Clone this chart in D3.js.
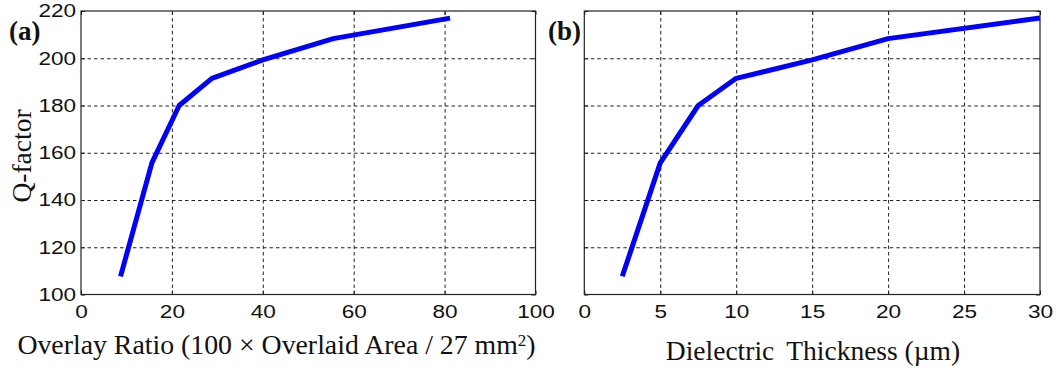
<!DOCTYPE html>
<html>
<head>
<meta charset="utf-8">
<script src="https://cdn.jsdelivr.net/npm/d3@7"></script>
<style>
  html, body { margin: 0; padding: 0; background: #fff; }
  svg { display: block; }
</style>
</head>
<body>
<svg id="chart" width="1059" height="370"></svg>
<script>
// Q-factor versus overlay ratio (a) and dielectric thickness (b)
const overlayRatio = [8.7, 15.6, 21.6, 28.8, 40, 55.5, 81.2];
const dielectricThickness = [2.5, 5, 7.5, 10, 15, 20, 30];
const qFactor = [107.7, 155.7, 180, 191.5, 199.3, 208.3, 217];

const xTicksA = [0, 20, 40, 60, 80, 100];
const xTicksB = [0, 5, 10, 15, 20, 25, 30];
const yTicks = [100, 120, 140, 160, 180, 200, 220];

const svg = d3.select("#chart");
const plotTop = 11, plotBottom = 294.5;

const y = d3.scaleLinear().domain([100, 220]).range([plotBottom, plotTop]);

const panels = [
  { left: 81, right: 535.5, domain: [0, 100], ticks: xTicksA, xs: overlayRatio,
    yLabels: true, tag: "(a)", tagX: 9 },
  { left: 584.3, right: 1040, domain: [0, 30], ticks: xTicksB, xs: dielectricThickness,
    yLabels: false, tag: "(b)", tagX: 548 }
];

const tickFont = "'Liberation Sans', Arial, sans-serif";
const serif = "'Liberation Serif', 'Times New Roman', serif";

panels.forEach(p => {
  const x = d3.scaleLinear().domain(p.domain).range([p.left, p.right]);
  const w = p.right - p.left, h = plotBottom - plotTop;
  const g = svg.append("g");

  // dashed grid
  const gx = g.append("g").attr("transform", `translate(0,${plotBottom})`)
    .call(d3.axisBottom(x).tickValues(p.ticks.slice(1, -1)).tickSize(-h).tickFormat(""));
  const gy = g.append("g").attr("transform", `translate(${p.left},0)`)
    .call(d3.axisLeft(y).tickValues(yTicks.slice(1, -1)).tickSize(-w).tickFormat(""));
  [gx, gy].forEach(a => {
    a.select(".domain").remove();
    a.selectAll("line").attr("stroke", "#222").attr("stroke-width", 1)
      .attr("stroke-dasharray", "3.5,3");
  });

  // inward ticks on all four sides
  const tickLen = 4;
  [[d3.axisBottom(x).tickValues(p.ticks), `translate(0,${plotBottom})`],
   [d3.axisTop(x).tickValues(p.ticks), `translate(0,${plotTop})`],
   [d3.axisLeft(y).tickValues(yTicks), `translate(${p.left},0)`],
   [d3.axisRight(y).tickValues(yTicks), `translate(${p.right},0)`]]
    .forEach(([ax, tr]) => {
      const a = g.append("g").attr("transform", tr).call(ax.tickSize(-tickLen).tickFormat(""));
      a.select(".domain").remove();
      a.selectAll("line").attr("stroke", "#222");
    });

  // frame
  g.append("rect").attr("x", p.left).attr("y", plotTop).attr("width", w).attr("height", h)
    .attr("fill", "none").attr("stroke", "#222").attr("stroke-width", 1.2);

  // x tick labels
  const xl = g.append("g").attr("transform", `translate(0,${plotBottom})`)
    .call(d3.axisBottom(x).tickValues(p.ticks).tickSize(0).tickPadding(10.4));
  xl.select(".domain").remove();
  xl.selectAll("text").attr("font-family", tickFont).attr("font-size", 18.5)
    .attr("fill", "#111").attr("transform", "scale(1.22,1)");

  // y tick labels
  if (p.yLabels) {
    const yl = g.append("g").attr("transform", `translate(${p.left},0)`)
      .call(d3.axisLeft(y).tickValues(yTicks).tickSize(0).tickPadding(4));
    yl.select(".domain").remove();
    yl.selectAll("text").attr("font-family", tickFont).attr("font-size", 18.5)
      .attr("fill", "#111").attr("transform", "scale(1.22,1)");
  }

  // Q-factor curve
  const line = d3.line().x(d => x(d[0])).y(d => y(d[1]));
  g.append("path").datum(p.xs.map((v, i) => [v, qFactor[i]]))
    .attr("d", line).attr("fill", "none").attr("stroke", "#0000ff")
    .attr("stroke-width", 5).attr("stroke-linejoin", "round");

  // panel tag
  g.append("text").attr("x", p.tagX).attr("y", 40).text(p.tag)
    .attr("font-family", serif).attr("font-weight", "bold").attr("font-size", 27).attr("fill", "#111");
});

// axis titles
svg.append("text").attr("transform", "translate(31,156) rotate(-90)")
  .attr("text-anchor", "middle").attr("font-family", serif).attr("font-size", 27.5)
  .attr("fill", "#111").text("Q-factor");

const xa = svg.append("text").attr("x", 276.5).attr("y", 354).attr("text-anchor", "middle")
  .attr("font-family", serif).attr("font-size", 27.8).attr("fill", "#111");
xa.append("tspan").text("Overlay Ratio (100 × Overlaid Area / 27 mm");
xa.append("tspan").attr("font-size", 17).attr("dy", -8.5).text("2");
xa.append("tspan").attr("dy", 8.5).text(")");

const xb = svg.append("text").attr("x", 813).attr("y", 360).attr("text-anchor", "middle")
  .attr("font-family", serif).attr("font-size", 27.5).attr("fill", "#111");
xb.append("tspan").text("Dielectric");
xb.append("tspan").attr("dx", 12).text("Thickness (µm)");
</script>
</body>
</html>
